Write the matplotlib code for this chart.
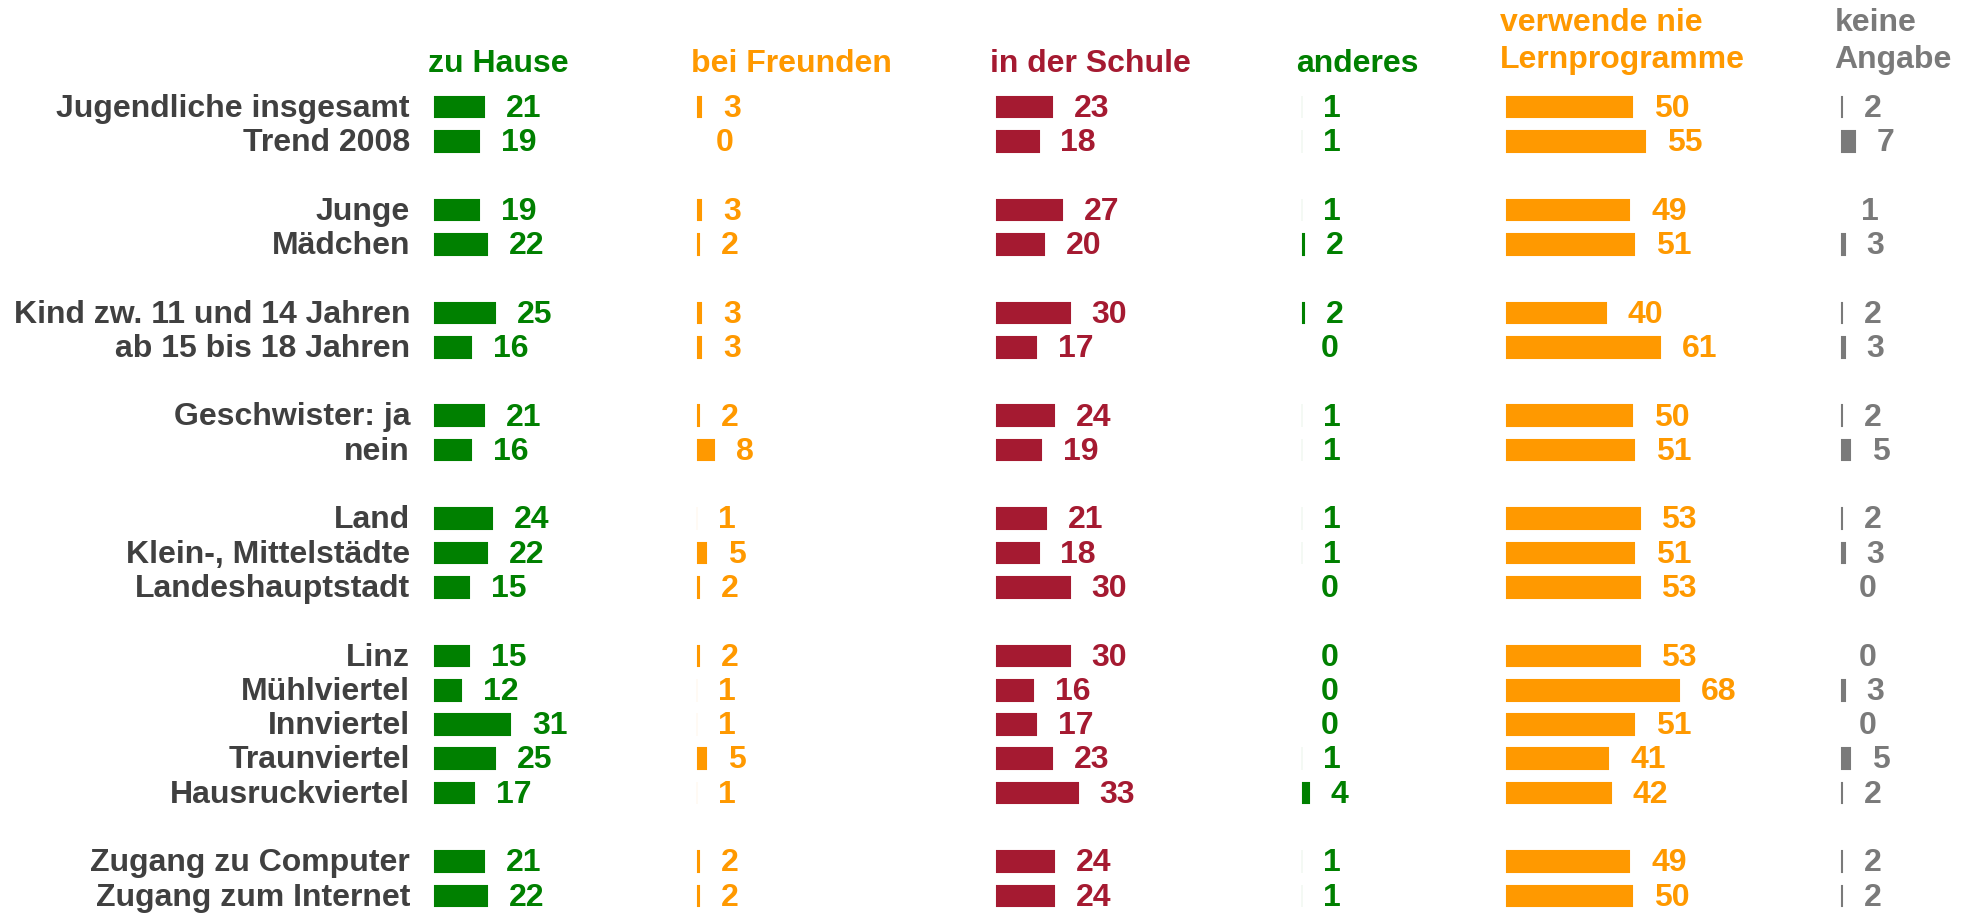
import matplotlib
matplotlib.use("Agg")
import matplotlib.pyplot as plt
from matplotlib.transforms import offset_copy

plt.rcParams['font.family'] = ['Liberation Sans', 'DejaVu Sans']

# ---------------- data ----------------
categories = [
    "Jugendliche insgesamt", "Trend 2008",
    "Junge", "Mädchen",
    "Kind zw. 11 und 14 Jahren", "ab 15 bis 18 Jahren",
    "Geschwister: ja", "nein",
    "Land", "Klein-, Mittelstädte", "Landeshauptstadt",
    "Linz", "Mühlviertel", "Innviertel", "Traunviertel", "Hausruckviertel",
    "Zugang zu Computer", "Zugang zum Internet",
]
group_sizes = [2, 2, 2, 2, 3, 5, 2]

zu_hause      = [21, 19, 19, 22, 25, 16, 21, 16, 24, 22, 15, 15, 12, 31, 25, 17, 21, 22]
bei_freunden  = [3, 0, 3, 2, 3, 3, 2, 8, 1, 5, 2, 2, 1, 1, 5, 1, 2, 2]
in_der_schule = [23, 18, 27, 20, 30, 17, 24, 19, 21, 18, 30, 30, 16, 17, 23, 33, 24, 24]
anderes       = [1, 1, 1, 2, 2, 0, 1, 1, 1, 1, 0, 0, 0, 0, 1, 4, 1, 1]
verwende_nie  = [50, 55, 49, 51, 40, 61, 50, 51, 53, 51, 53, 53, 68, 51, 41, 42, 49, 50]
keine_angabe  = [2, 7, 1, 3, 2, 3, 2, 5, 2, 3, 0, 0, 3, 0, 5, 2, 2, 2]

headers = ["zu Hause", "bei Freunden", "in der Schule", "anderes",
           "verwende nie\nLernprogramme", "keine\nAngabe"]
series = [zu_hause, bei_freunden, in_der_schule, anderes, verwende_nie, keine_angabe]
colors = ["#008000", "#FF9900", "#A51A31", "#008000", "#FF9900", "#7A7A7A"]
label_color = "#404040"

# ---------------- layout ----------------
W, H, DPI = 1966, 913, 100
col_x0 = [431.7, 695.4, 993.7, 1300.4, 1503.7, 1838.7]   # pixel start of each column
PX_PER_UNIT = 2.6
COL_W = 250
PITCH = 34.3
FIRST = 106.6
FS = 23

fig = plt.figure(figsize=(W / DPI, H / DPI), dpi=DPI)
fig.patch.set_facecolor("white")

# slot positions with blank row between groups
slots = []
s = 0
for g in group_sizes:
    for _ in range(g):
        slots.append(s)
        s += 1
    s += 1

y_top = -FIRST / PITCH
y_bot = (H - FIRST) / PITCH

axes = []
for i, (vals, col, x0) in enumerate(zip(series, colors, col_x0)):
    ax = fig.add_axes([x0 / W, 0, COL_W / W, 1])
    ax.set_xlim(0, COL_W / PX_PER_UNIT)
    ax.set_ylim(y_bot, y_top)
    ax.axis("off")
    ax.barh(slots, vals, height=0.75, left=0, color=col,
            edgecolor="white", linewidth=2.1)
    tr = offset_copy(ax.transData, fig=fig, x=20, y=-10.2, units="dots")
    for y, v in zip(slots, vals):
        ax.text(v, y, str(v), transform=tr, ha="left", va="baseline",
                color=col, fontsize=FS, fontweight="bold")
    axes.append(ax)

    # header
    lines = headers[i].split("\n")
    hx = (x0 - 4) / W
    if len(lines) == 1:
        fig.text(hx, 1 - 72.5 / H, lines[0], ha="left", va="baseline",
                 color=col, fontsize=FS, fontweight="bold")
    else:
        fig.text(hx, 1 - 30.7 / H, lines[0], ha="left", va="baseline",
                 color=col, fontsize=FS, fontweight="bold")
        fig.text(hx, 1 - 68.3 / H, lines[1], ha="left", va="baseline",
                 color=col, fontsize=FS, fontweight="bold")

# row labels
ax0 = axes[0]
trl = offset_copy(ax0.transData, fig=fig, x=-21.7, y=-10.2, units="dots")
for y, lab in zip(slots, categories):
    ax0.text(0, y, lab, transform=trl, ha="right", va="baseline",
             color=label_color, fontsize=FS, fontweight="bold")

fig.savefig("out.png", dpi=DPI, facecolor="white")
